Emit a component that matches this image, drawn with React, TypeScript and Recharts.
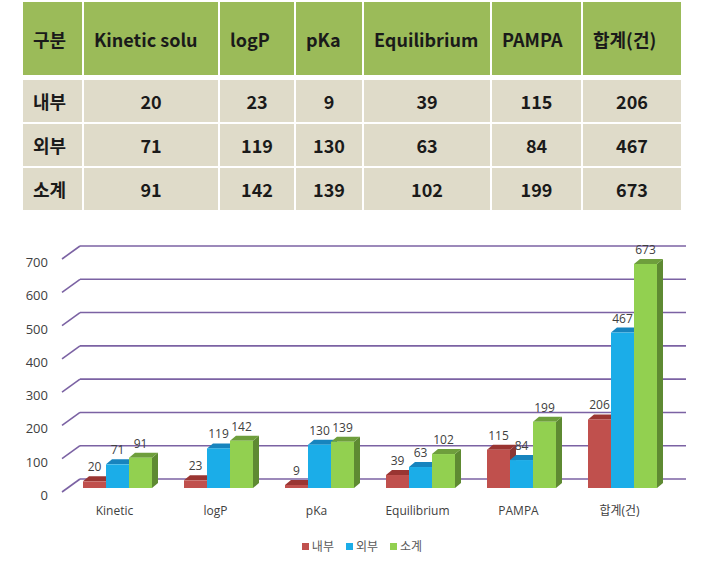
import React from 'react';
import { BarChart, Bar, XAxis, YAxis, CartesianGrid, LabelList } from 'recharts';

const tableHeaders = ['구분', 'Kinetic solu', 'logP', 'pKa', 'Equilibrium', 'PAMPA', '합계(건)'];
const categories = ['Kinetic', 'logP', 'pKa', 'Equilibrium', 'PAMPA', '합계(건)'];
const seriesNames = ['내부', '외부', '소계'];
const internal = [20, 23, 9, 39, 115, 206];
const external = [71, 119, 130, 63, 84, 467];
const subtotal = [91, 142, 139, 102, 199, 673];
const yTicks = [0, 100, 200, 300, 400, 500, 600, 700];

const seriesValues = [internal, external, subtotal];
const seriesKeys = ['internal', 'external', 'subtotal'];

// front / top / side colours for the fake 3D bars
const PALETTE = [
  { front: '#C0504D', top: '#9A3532', side: '#8C3634' },
  { front: '#1BADE8', top: '#1784BE', side: '#1470A2' },
  { front: '#92D050', top: '#6E9E3C', side: '#5E8A32' },
];

const FONT = "'Open Sans', 'Noto Sans CJK KR', sans-serif";
const GRID = '#7B62A3';
const DX = 6;
const DY = 5;

const chartData = categories.map((name, i) => ({
  name,
  internal: internal[i],
  external: external[i],
  subtotal: subtotal[i],
}));

const colWidths = [59, 134, 74, 66, 126, 89, 98];

const make3DBar = (c: { front: string; top: string; side: string }) => (props: any) => {
  const { x, y, width, height } = props;
  if (width == null || height == null) return <g />;
  return (
    <g>
      <polygon
        points={`${x + width},${y} ${x + width + DX},${y - DY} ${x + width + DX},${y + height - DY} ${x + width},${y + height}`}
        fill={c.side}
      />
      <polygon
        points={`${x},${y} ${x + DX},${y - DY} ${x + width + DX},${y - DY} ${x + width},${y}`}
        fill={c.top}
      />
      <rect x={x} y={y} width={width} height={height} fill={c.front} />
    </g>
  );
};

const GridLine = (props: any) => {
  const { x1, x2, y1 } = props;
  return (
    <g key={props.key}>
      <line x1={x1 - 5} y1={y1 + 4} x2={x1 + 13} y2={y1 - 9} stroke={GRID} strokeWidth={1.6} />
      <line x1={x1 + 13} y1={y1 - 9} x2={x2 + 13} y2={y1 - 9} stroke={GRID} strokeWidth={1.6} />
    </g>
  );
};

const XTick = ({ x, y, payload }: any) => (
  <text x={x - 3} y={y + 27} textAnchor="middle" fontSize={12} fill="#404040" fontFamily={FONT}>
    {payload.value}
  </text>
);

const YTick = ({ x, y, payload }: any) => (
  <text x={x - 19} y={y + 12} textAnchor="end" fontSize={13} fill="#404040" fontFamily={FONT}>
    {payload.value}
  </text>
);

function DataTable() {
  const rows = seriesNames.map((n, i) => [n, ...seriesValues[i].map(String)]);
  const cell = (text: string, ci: number, header: boolean, h: number, key: string) => (
    <div
      key={key}
      style={{
        width: colWidths[ci],
        height: h,
        background: header ? '#9BBB59' : '#DFDBC9',
        display: 'flex',
        alignItems: 'center',
        justifyContent: header || ci === 0 ? 'flex-start' : 'center',
        paddingLeft: header || ci === 0 ? 10 : 0,
        boxSizing: 'border-box',
        fontWeight: 'bold',
        fontSize: 18,
        color: '#1a1a1a',
      }}
    >
      {text}
    </div>
  );
  return (
    <div
      style={{
        position: 'absolute',
        left: 23,
        top: 2,
        fontFamily: "'Noto Sans CJK KR', sans-serif",
      }}
    >
      <div style={{ display: 'flex', gap: 2, marginBottom: 5 }}>
        {tableHeaders.map((t, ci) => cell(t, ci, true, 73, 'h' + ci))}
      </div>
      {rows.map((r, ri) => (
        <div key={ri} style={{ display: 'flex', gap: 2, marginBottom: 2 }}>
          {r.map((t, ci) => cell(t, ci, false, 42, ri + '-' + ci))}
        </div>
      ))}
    </div>
  );
}

export default function App() {
  return (
    <div
      style={{
        position: 'absolute',
        left: 0,
        top: 0,
        width: 718,
        height: 565,
        background: '#fff',
        fontFamily: FONT,
      }}
    >
      <DataTable />
      <div style={{ position: 'absolute', left: 0, top: 215 }}>
        <BarChart
          width={718}
          height={350}
          data={chartData}
          margin={{ top: 40, right: 45, left: 17, bottom: 47 }}
          barGap={0}
          barCategoryGap={16}
        >
          <CartesianGrid vertical={false} horizontal={GridLine} />
          <XAxis
            dataKey="name"
            axisLine={false}
            tickLine={false}
            tickSize={0}
            tickMargin={0}
            height={30}
            interval={0}
            tick={<XTick />}
          />
          <YAxis
            domain={[0, 700]}
            ticks={yTicks}
            width={50}
            axisLine={false}
            tickLine={false}
            tickSize={0}
            tickMargin={0}
            tick={<YTick />}
          />
          {seriesKeys.map((k, i) => (
            <Bar key={k} dataKey={k} name={seriesNames[i]} fill={PALETTE[i].front} shape={make3DBar(PALETTE[i])} isAnimationActive={false}>
              <LabelList dataKey={k} position="top" offset={10} fontSize={12} fill="#404040" fontFamily={FONT} />
            </Bar>
          ))}
        </BarChart>
      </div>
      <div
        style={{
          position: 'absolute',
          top: 537,
          left: 0,
          width: 718,
          display: 'flex',
          justifyContent: 'center',
          gap: 12,
          fontSize: 12,
          color: '#595959',
          paddingLeft: 6,
          boxSizing: 'border-box',
        }}
      >
        {seriesNames.map((n, i) => (
          <div key={n} style={{ display: 'flex', alignItems: 'center', gap: 3 }}>
            <span style={{ width: 7, height: 7, background: PALETTE[i].front, display: 'inline-block' }} />
            <span>{n}</span>
          </div>
        ))}
      </div>
    </div>
  );
}
